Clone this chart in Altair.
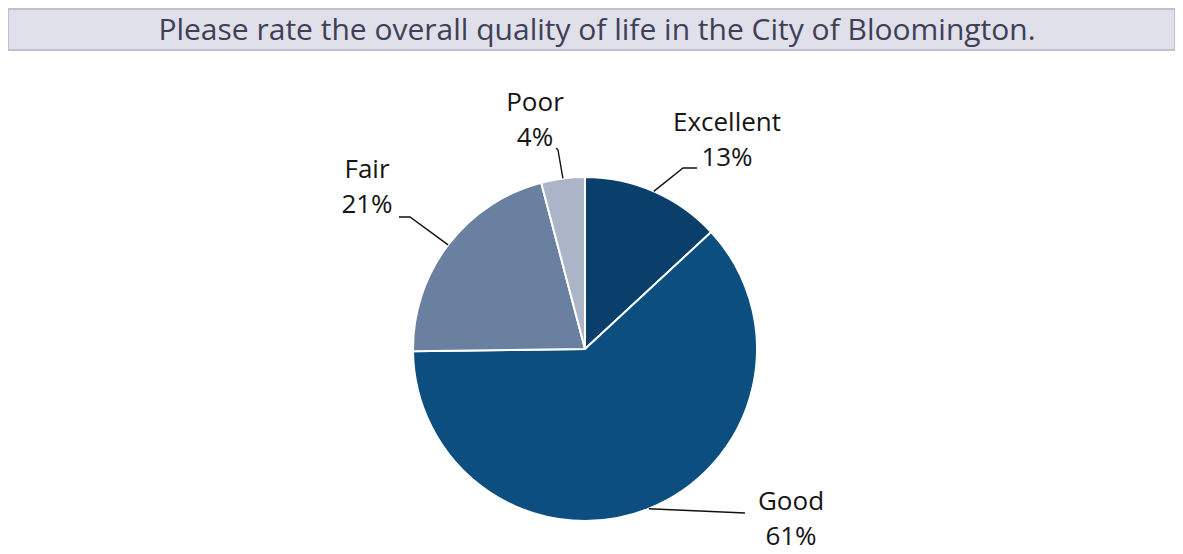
import math
import altair as alt
import pandas as pd

# ---- data ----
title_text = ["Please rate the overall quality of life in the City of Bloomington."]
categories = ["Excellent", "Good", "Fair", "Poor"]
values = [13.1, 61.7, 21.1, 4.1]
pct_labels = ["13%", "61%", "21%", "4%"]
colors = ["#0b3f6b", "#0c4e80", "#6a80a0", "#abb5c7"]

# ---- layout (pixels, relative to pie centre, y downward) ----
W, H = 1167, 546
CX, CY, R = 577, 341, 172
label_x = [142, 206, -218, -50]
name_y = [-226, 153, -179, -246]
pct_y = [-191, 188, -144, -211]
elbow_pts = [(98, -181), (160, 164), (-175, -132), (-27, -199)]
end_pts = [(112, -181), (160, 164), (-186, -132), (-29, -201)]
FONT = "Open Sans"
FS_LABEL = 26
FS_TITLE = 30

xs = alt.Scale(domain=[-CX / R, (W - CX) / R], nice=False, zero=False)
ys = alt.Scale(domain=[-(H - CY) / R, CY / R], nice=False, zero=False)

df = pd.DataFrame({"category": categories, "value": values,
                   "idx": list(range(len(categories))),
                   "cx": 0.0, "cy": 0.0})

arc = alt.Chart(df).mark_arc(outerRadius=R, stroke="white", strokeWidth=2).encode(
    x=alt.X("cx:Q", scale=xs, axis=None),
    y=alt.Y("cy:Q", scale=ys, axis=None),
    theta=alt.Theta("value:Q", stack=True),
    color=alt.Color("category:N", scale=alt.Scale(domain=categories, range=colors), legend=None),
    order=alt.Order("idx:Q"),
)

# leader lines: start on the arc edge at each slice's mid-angle
total = sum(values)
rows = []
cum = 0.0
for i, (c, v) in enumerate(zip(categories, values)):
    mid = (cum + v / 2) / total * 2 * math.pi
    cum += v
    sx, sy = math.sin(mid), math.cos(mid)
    rows.append({"category": c, "k": 0, "x": sx, "y": sy})
    rows.append({"category": c, "k": 1, "x": elbow_pts[i][0] / R, "y": -elbow_pts[i][1] / R})
    rows.append({"category": c, "k": 2, "x": end_pts[i][0] / R, "y": -end_pts[i][1] / R})
lines_df = pd.DataFrame(rows)

leaders = alt.Chart(lines_df).mark_line(color="#111111", strokeWidth=1.4).encode(
    x=alt.X("x:Q", scale=xs, axis=None),
    y=alt.Y("y:Q", scale=ys, axis=None),
    detail="category:N",
    order="k:Q",
)

lab_rows = []
for i, c in enumerate(categories):
    lab_rows.append({"t": c, "x": label_x[i] / R, "y": -name_y[i] / R})
    lab_rows.append({"t": pct_labels[i], "x": label_x[i] / R, "y": -pct_y[i] / R})
lab_df = pd.DataFrame(lab_rows)

labels = alt.Chart(lab_df).mark_text(font=FONT, fontSize=FS_LABEL, color="#151515",
                                     align="center", baseline="middle").encode(
    x=alt.X("x:Q", scale=xs, axis=None),
    y=alt.Y("y:Q", scale=ys, axis=None),
    text="t:N",
)

tdf = pd.DataFrame({"t": title_text})
title_box = alt.Chart(tdf).mark_rect(fill="#e0e0eb", stroke="#bfbfd6", strokeWidth=2).encode(
    x=alt.value(0), x2=alt.value(W), y=alt.value(1), y2=alt.value(42)
)
title = alt.Chart(tdf).mark_text(font=FONT, fontSize=FS_TITLE, color="#3f3f55",
                                 align="center", baseline="middle").encode(
    x=alt.value(589), y=alt.value(23), text="t:N"
)

chart = alt.layer(title_box, title, arc, leaders, labels).properties(
    width=W, height=H, padding=0, autosize=alt.AutoSizeParams(type="none")
).configure_view(stroke=None)

chart.save("out.html", embed_options={"renderer": "svg", "actions": False})
